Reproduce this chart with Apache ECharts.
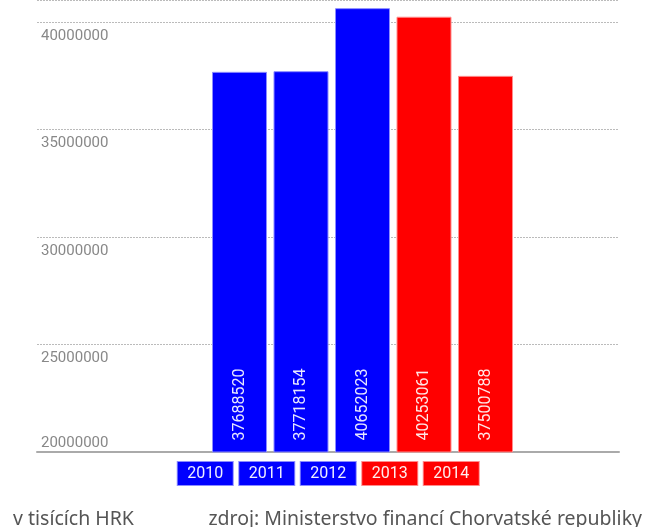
<!DOCTYPE html>
<html>
<head>
<meta charset="utf-8">
<script src="https://cdn.jsdelivr.net/npm/echarts@6/dist/echarts.min.js"></script>
<style>
html,body{margin:0;padding:0;background:#fff;}
#chart{width:648px;height:527px;}
</style>
</head>
<body>
<div id="chart"></div>
<script>
var years = ['2010', '2011', '2012', '2013', '2014'];
var values = [37688520, 37718154, 40652023, 40253061, 37500788];
var barColors = ['#0000ff', '#0000ff', '#0000ff', '#ff0000', '#ff0000'];
var borderColors = ['#8c8cff', '#8c8cff', '#8c8cff', '#ff8c8c', '#ff8c8c'];
var yTicks = [20000000, 25000000, 30000000, 35000000, 40000000];
var unitText = 'v tisících HRK';
var sourceText = 'zdroj: Ministerstvo financí Chorvatské republiky';

var chart = echarts.init(document.getElementById('chart'));
var narrow = 'Roboto, sans-serif';
var yMax = 41031000;
var gTop = -3, gHeight = 455;

var option = {
  animation: false,
  title: [
    {text: unitText, left: 8, top: 504, textStyle: {fontFamily: '"Noto Sans", sans-serif', fontSize: 19.5, fontWeight: 'normal', color: '#555'}},
    {text: sourceText, right: 1, top: 504, textStyle: {fontFamily: '"Noto Sans", sans-serif', fontSize: 19.5, fontWeight: 'normal', color: '#555'}}
  ],
  grid: [
    {left: 37, width: 582, top: gTop, height: gHeight},
    {left: 208.75, width: 307.5, top: gTop, height: gHeight},
    {left: 174.5, width: 307.5, top: gTop, height: gHeight}
  ],
  xAxis: [
    {type: 'category', gridIndex: 0, data: [''],
     axisLine: {show: true, lineStyle: {color: '#aaa', width: 2}},
     axisTick: {show: false}, axisLabel: {show: false}, splitLine: {show: false}},
    {type: 'category', gridIndex: 1, data: years,
     axisLine: {show: false}, axisTick: {show: false}, axisLabel: {show: false}},
    {type: 'category', gridIndex: 2, data: years,
     axisLine: {show: false}, axisTick: {show: false},
     axisLabel: {
       margin: 10,
       interval: 0,
       formatter: function (v, i) {
         return '{' + (barColors[i] === '#0000ff' ? 'b' : 'r') + '|' + v + '}';
       },
       rich: {
         b: {backgroundColor: '#0000ff', borderColor: '#8c8cff', borderWidth: 1, color: '#eeeeff',
             width: 55, height: 23, lineHeight: 23, align: 'center', fontFamily: narrow, fontSize: 16},
         r: {backgroundColor: '#ff0000', borderColor: '#ff8c8c', borderWidth: 1, color: '#ffeeee',
             width: 55, height: 23, lineHeight: 23, align: 'center', fontFamily: narrow, fontSize: 16}
       }
     }}
  ],
  yAxis: [
    {type: 'value', gridIndex: 0, min: yTicks[0], max: yMax, interval: 5000000,
     axisLine: {show: false}, axisTick: {show: false},
     splitLine: {show: true, lineStyle: {color: '#bbb', width: 1, type: [2, 1]}},
     axisLabel: {
       inside: true, margin: 4, align: 'left', verticalAlign: 'middle',
       formatter: function (v) {
         if (yTicks.indexOf(v) < 0) return '';
         return v === yTicks[0] ? '{u|' + v + '}' : '{d|' + v + '}';
       },
       rich: {
         u: {fontFamily: narrow, fontSize: 15, color: '#888', lineHeight: 16, padding: [0, 0, 18, 0]},
         d: {fontFamily: narrow, fontSize: 15, color: '#888', lineHeight: 16, padding: [28, 0, 0, 0]}
       }
     }},
    {type: 'value', gridIndex: 1, min: yTicks[0], max: yMax, interval: 5000000,
     show: false, splitLine: {show: false}},
    {type: 'value', gridIndex: 2, min: yTicks[0], max: yMax, interval: 5000000,
     show: false, splitLine: {show: false}}
  ],
  series: [{
    type: 'bar',
    xAxisIndex: 1, yAxisIndex: 1,
    barWidth: 55,
    data: values.map(function (v, i) {
      return {value: v, itemStyle: {color: barColors[i], borderColor: borderColors[i], borderWidth: 1}};
    }),
    label: {
      show: true, position: 'insideBottom', rotate: 90, align: 'left', verticalAlign: 'middle',
      distance: 12, color: 'rgba(255,255,255,0.9)', fontFamily: narrow, fontSize: 16
    }
  }]
};
chart.setOption(option);
</script>
</body>
</html>
